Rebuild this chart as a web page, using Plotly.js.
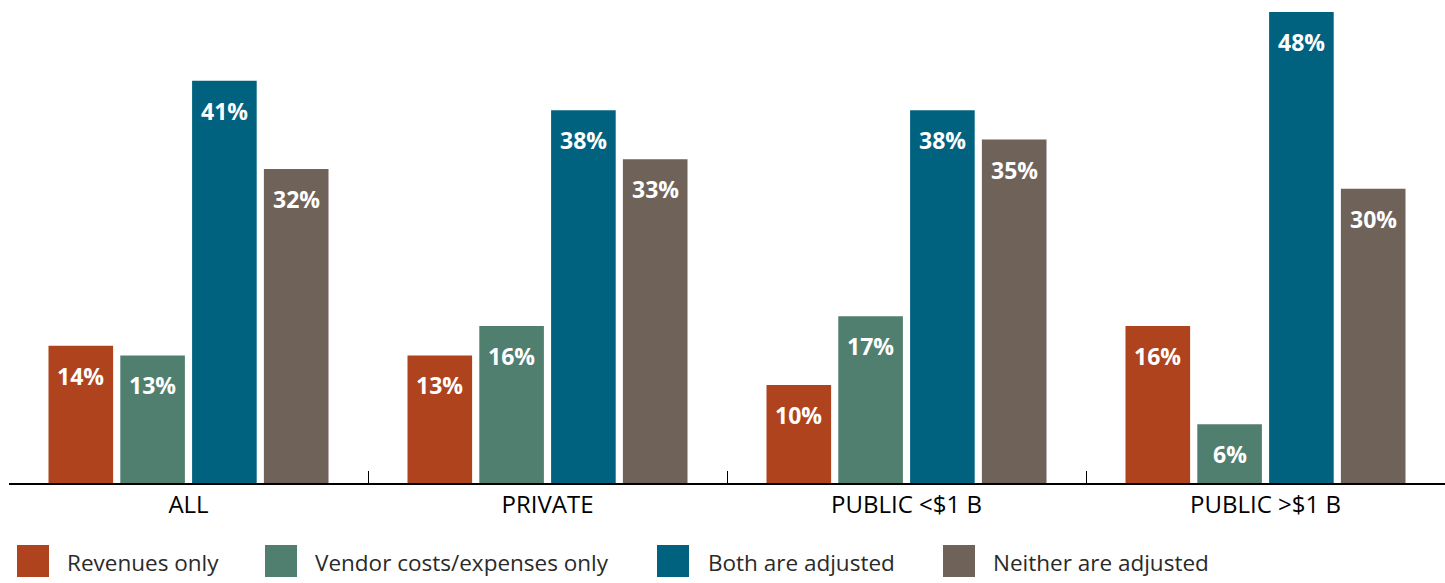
<!DOCTYPE html>
<html>
<head>
<meta charset="utf-8">
<script src="https://cdn.plot.ly/plotly-3.0.1.min.js"></script>
<style>html,body{margin:0;padding:0;background:#fff;}#chart{width:1445px;height:583px;}</style>
</head>
<body>
<div id="chart"></div>
<script>
// ---- data ----
const categories = ["ALL", "PRIVATE", "PUBLIC <$1 B", "PUBLIC >$1 B"];
const seriesNames = ["Revenues only", "Vendor costs/expenses only", "Both are adjusted", "Neither are adjusted"];
const revenuesOnly = [14, 13, 10, 16];
const vendorCostsOnly = [13, 16, 17, 6];
const bothAdjusted = [41, 38, 38, 48];
const neitherAdjusted = [32, 33, 35, 30];
const seriesColors = ["#AE431E", "#507F70", "#00627F", "#6F6259"];

// ---- layout constants ----
const W = 1445, H = 583;
const M = {l: 9, r: 0, t: 12, b: 100};
const plotW = W - M.l - M.r, plotH = H - M.t - M.b;
const bargap = 0.2, bargroupgap = 0.1;
const seriesValues = [revenuesOnly, vendorCostsOnly, bothAdjusted, neitherAdjusted];
const FONT = "Open Sans, Noto Sans, sans-serif";

const esc = s => s.replace(/&/g, "&amp;").replace(/</g, "&lt;").replace(/>/g, "&gt;");

const traces = seriesValues.map((vals, i) => ({
  type: "bar",
  name: seriesNames[i],
  x: categories,
  y: vals,
  marker: {color: seriesColors[i]},
  hoverinfo: "none",
  showlegend: false
}));

const catW = plotW / categories.length;
const slotW = catW * (1 - bargap) / seriesValues.length;
const annotations = [];
seriesValues.forEach((vals, i) => {
  vals.forEach((v, j) => {
    annotations.push({
      x: categories[j], y: v, xref: "x", yref: "y",
      text: v + "%", showarrow: false,
      xshift: (i - (seriesValues.length - 1) / 2) * slotW,
      yshift: -30, yanchor: "middle", xanchor: "center",
      font: {family: FONT, size: 23, color: "#ffffff", weight: 700}
    });
  });
});

// custom legend (large square swatches)
const px2x = px => (px - M.l) / plotW;
const px2y = py => (H - M.b - py) / plotH;
const legendSquareX = [17, 265, 657, 943];
const legendTextX = [65, 313, 706, 991];
const legendY = 561, sq = 32;
const shapes = [];
seriesNames.forEach((name, i) => {
  shapes.push({
    type: "rect", xref: "paper", yref: "paper",
    x0: px2x(legendSquareX[i]), x1: px2x(legendSquareX[i] + sq),
    y0: px2y(legendY + sq / 2), y1: px2y(legendY - sq / 2),
    fillcolor: seriesColors[i], line: {width: 0}
  });
  annotations.push({
    xref: "paper", yref: "paper",
    x: px2x(legendTextX[i]), y: px2y(legendY + 1),
    xanchor: "left", yanchor: "middle", showarrow: false,
    text: esc(name),
    font: {family: FONT, size: 22.5, color: "#2a2a2a"}
  });
});

const layout = {
  width: W, height: H,
  margin: M,
  paper_bgcolor: "#ffffff", plot_bgcolor: "#ffffff",
  barmode: "group", bargap: bargap, bargroupgap: bargroupgap,
  showlegend: false,
  xaxis: {
    type: "category",
    tickvals: categories,
    ticktext: categories.map(esc),
    showline: true, linecolor: "#000000", linewidth: 1.5,
    ticks: "inside", tickson: "boundaries", ticklen: 12, tickcolor: "#000000", tickwidth: 1,
    showgrid: false, zeroline: false,
    tickfont: {family: FONT, size: 24, color: "#000000"},
    fixedrange: true
  },
  yaxis: {
    range: [0, 48], visible: false, showgrid: false, zeroline: false, fixedrange: true
  },
  annotations: annotations,
  shapes: shapes
};

Plotly.newPlot("chart", traces, layout, {displayModeBar: false, staticPlot: true});
</script>
</body>
</html>
